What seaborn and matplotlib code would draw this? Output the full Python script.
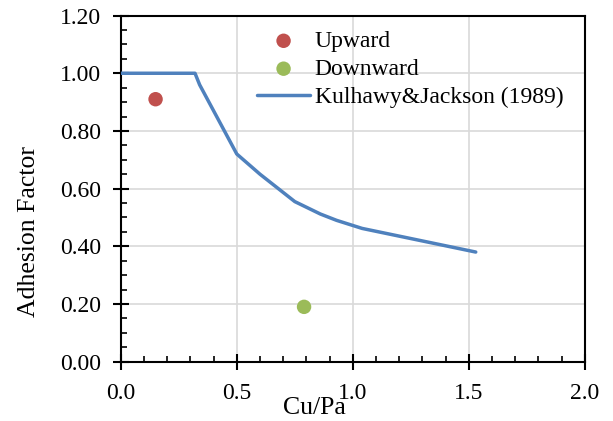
import matplotlib
matplotlib.use("Agg")
import matplotlib.pyplot as plt
import seaborn as sns
import pandas as pd
from matplotlib.ticker import MultipleLocator, FormatStrFormatter

# Data
up_x = [0.15]
up_y = [0.91]
down_x = [0.79]
down_y = [0.19]
kj_x = [0.0, 0.32, 0.34, 0.50, 0.60, 0.75, 0.86, 0.93, 1.04, 1.53]
kj_y = [1.00, 1.00, 0.96, 0.72, 0.65, 0.555, 0.512, 0.49, 0.462, 0.38]
labels = ["Upward", "Downward", "Kulhawy&Jackson (1989)"]

sns.set_theme(style="white")
plt.rcParams['font.family'] = ['Liberation Serif', 'DejaVu Serif']
plt.rcParams['text.color'] = 'black'
plt.rcParams['axes.labelcolor'] = 'black'

fig = plt.figure(figsize=(6.13, 4.21), dpi=100)
ax = fig.add_axes([0.197, 0.141, 0.757, 0.822])

df_up = pd.DataFrame({"x": up_x, "y": up_y})
df_down = pd.DataFrame({"x": down_x, "y": down_y})
df_kj = pd.DataFrame({"x": kj_x, "y": kj_y})

sns.lineplot(data=df_kj, x="x", y="y", ax=ax, color="#4F81BD", linewidth=2.5,
             sort=False, estimator=None, label=labels[2], zorder=3)
sns.scatterplot(data=df_up, x="x", y="y", ax=ax, color="#C0504D", s=108,
                edgecolor="none", label=labels[0], zorder=4)
sns.scatterplot(data=df_down, x="x", y="y", ax=ax, color="#9BBB59", s=108,
                edgecolor="none", label=labels[1], zorder=4)

ax.set_xlim(0, 2.0)
ax.set_ylim(0, 1.2)
ax.xaxis.set_major_locator(MultipleLocator(0.5))
ax.xaxis.set_minor_locator(MultipleLocator(0.1))
ax.yaxis.set_major_locator(MultipleLocator(0.2))
ax.yaxis.set_minor_locator(MultipleLocator(0.05))
ax.xaxis.set_major_formatter(FormatStrFormatter('%.1f'))
ax.yaxis.set_major_formatter(FormatStrFormatter('%.2f'))

ax.grid(True, which='major', color='#d9d9d9', linewidth=1.2)
ax.set_axisbelow(True)
for s in ax.spines.values():
    s.set_color('black')
    s.set_linewidth(1.5)

ax.tick_params(axis='both', which='major', direction='inout', length=11, width=1.5,
               labelsize=17, colors='black')
ax.tick_params(axis='both', which='minor', direction='in', length=4, width=1.2,
               colors='black')
ax.tick_params(axis='x', which='both', bottom=True, top=False)
ax.tick_params(axis='y', which='both', left=True, right=False)
ax.tick_params(axis='y', which='major', pad=8.5)
ax.tick_params(axis='x', which='major', pad=10)

ax.set_xlabel("Cu/Pa", fontsize=18.5)
ax.set_ylabel("Adhesion Factor", fontsize=18.5)
ax.xaxis.set_label_coords(0.418, -0.102)
ax.yaxis.set_label_coords(-0.174, 0.376)

handles, lbls = ax.get_legend_handles_labels()
order = {l: h for h, l in zip(handles, lbls)}
ax.legend([order[l] for l in labels], labels, loc='upper left',
          bbox_to_anchor=(0.2936, 0.957), frameon=False, fontsize=17,
          handlelength=2.25, handletextpad=0.2, labelspacing=0.27,
          borderpad=0, borderaxespad=0)

fig.savefig("out.png", dpi=100)
